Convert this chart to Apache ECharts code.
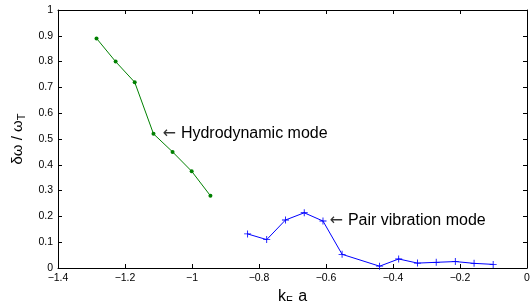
<!DOCTYPE html>
<html lang="en">
<head>
    <meta charset="UTF-8">
    <title>Collective modes</title>
    <script src="https://cdn.jsdelivr.net/npm/echarts@6/dist/echarts.min.js"></script>
    <style>
        html, body { margin: 0; padding: 0; background: #fff; }
    </style>
</head>
<body>
<div style="width:530px;height:301px" id="myChart"></div>
<script type="text/javascript">
    // hydrodynamic branch (green)
    var hydroX = [-1.285, -1.228, -1.171, -1.115, -1.058, -1.001, -0.945];
    var hydroY = [0.89, 0.80, 0.72, 0.52, 0.45, 0.375, 0.28];
    // pair vibration branch (blue)
    var pairX = [-0.834, -0.777, -0.721, -0.665, -0.609, -0.552, -0.440, -0.383, -0.327, -0.271, -0.214, -0.158, -0.101];
    var pairY = [0.132, 0.11, 0.186, 0.214, 0.182, 0.053, 0.007, 0.035, 0.019, 0.022, 0.025, 0.018, 0.014];
    var xTicks = [-1.4, -1.2, -1, -0.8, -0.6, -0.4, -0.2, 0];
    var yTicks = [0, 0.1, 0.2, 0.3, 0.4, 0.5, 0.6, 0.7, 0.8, 0.9, 1];

    var hydroLabelIdx = 3;
    var pairLabelIdx = 4;
    var FONT = 'Liberation Sans, Arial, sans-serif';

    function fmt(v) {
        var s = String(Math.round(v * 10) / 10);
        return s.replace('-', '\u2212');
    }

    function pairs(xs, ys, labelIdx, text, gap) {
        var out = [];
        for (var i = 0; i < xs.length; i++) {
            var d = { value: [xs[i], ys[i]] };
            if (i === labelIdx) {
                d.label = {
                    show: true, position: 'right', distance: gap,
                    formatter: '{ar|\u2190}{t|' + text + '}',
                    rich: {
                        ar: { fontSize: 16, color: '#333', fontFamily: 'DejaVu Sans', padding: [0, 5, 0, 0] },
                        t: { fontSize: 16, color: '#000', fontFamily: FONT }
                    }
                };
            }
            out.push(d);
        }
        return out;
    }

    var axisFont = { color: '#000', fontSize: 10.5, fontFamily: FONT };
    var boxLine = { show: true, onZero: false, lineStyle: { color: '#000', width: 1 } };
    var inTick = { show: true, inside: true, length: 4, lineStyle: { color: '#000' } };

    var myChart = echarts.init(document.getElementById('myChart'), null, { renderer: 'canvas' });
    myChart.setOption({
        animation: false,
        grid: { left: 58, right: 3, top: 10, bottom: 33, containLabel: false, outerBoundsMode: 'none' },
        xAxis: [{
            type: 'value', min: xTicks[0], max: xTicks[xTicks.length - 1], interval: 0.2,
            position: 'bottom',
            axisLine: boxLine, axisTick: inTick, splitLine: { show: false },
            axisLabel: Object.assign({ margin: 5, formatter: fmt }, axisFont),
            name: '{a|k}{s|F}{a| a}', nameLocation: 'middle', nameGap: 17,
            nameTextStyle: {
                rich: {
                    a: { fontSize: 16, color: '#000', fontFamily: FONT },
                    s: { fontSize: 11, color: '#000', padding: [9, 1, 0, 0], fontFamily: FONT }
                }
            }
        }, {
            type: 'value', min: xTicks[0], max: xTicks[xTicks.length - 1], interval: 0.2,
            position: 'top',
            axisLine: boxLine, axisTick: inTick, splitLine: { show: false },
            axisLabel: { show: false }
        }],
        yAxis: [{
            type: 'value', min: yTicks[0], max: yTicks[yTicks.length - 1], interval: 0.1,
            position: 'left',
            axisLine: boxLine, axisTick: inTick, splitLine: { show: false },
            axisLabel: Object.assign({ margin: 5, formatter: fmt }, axisFont),
            name: '{a|\u03b4\u03c9 / \u03c9}{s|T}', nameLocation: 'middle', nameGap: 27, nameRotate: 90,
            nameTextStyle: {
                rich: {
                    a: { fontSize: 15, color: '#000', fontFamily: FONT },
                    s: { fontSize: 11, color: '#000', padding: [9, 0, 0, 0], fontFamily: FONT }
                }
            }
        }, {
            type: 'value', min: yTicks[0], max: yTicks[yTicks.length - 1], interval: 0.1,
            position: 'right',
            axisLine: boxLine, axisTick: inTick, splitLine: { show: false },
            axisLabel: { show: false }
        }],
        series: [{
            name: 'Hydrodynamic mode',
            type: 'line',
            data: pairs(hydroX, hydroY, hydroLabelIdx, 'Hydrodynamic mode', 7),
            symbol: 'circle', symbolSize: 4,
            lineStyle: { color: '#008000', width: 1 },
            itemStyle: { color: '#008000' }
        }, {
            name: 'Pair vibration mode',
            type: 'line',
            data: pairs(pairX, pairY, pairLabelIdx, 'Pair vibration mode', 3),
            symbol: 'path://M4.4,0H5.6V10H4.4Z M0,4.4H10V5.6H0Z', symbolSize: 7,
            lineStyle: { color: '#0000ff', width: 1 },
            itemStyle: { color: '#0000ff' }
        }]
    });
</script>
</body>
</html>
